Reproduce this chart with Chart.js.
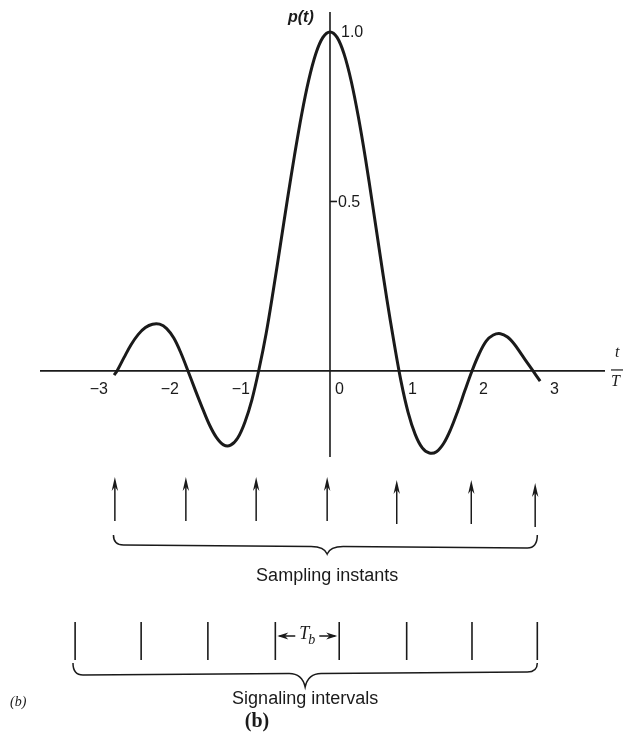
<!DOCTYPE html>
<html>
<head>
<meta charset="utf-8">
<title>p(t) pulse, sampling instants and signaling intervals</title>
<script src="https://cdn.jsdelivr.net/npm/chart.js@4/dist/chart.umd.min.js"></script>
<style>
  html, body { margin: 0; padding: 0; background: #ffffff; }
  #wrap { width: 623px; height: 749px; }
</style>
</head>
<body>
<div id="wrap"><canvas id="c" width="623" height="749"></canvas></div>
<script>
// Normalised time t/T and the pulse p(t)
const tValues = [
  -3.04, -3.0, -2.9, -2.8, -2.7, -2.6, -2.5, -2.4, -2.3, -2.2, -2.1,
  -2.0, -1.9, -1.8, -1.7, -1.6, -1.5, -1.4, -1.3, -1.2, -1.1,
  -1.0, -0.9, -0.8, -0.7, -0.6, -0.5, -0.4, -0.3, -0.2, -0.1,
  0.0, 0.1, 0.2, 0.3, 0.4, 0.5, 0.6, 0.7, 0.8, 0.9,
  1.0, 1.1, 1.2, 1.3, 1.4, 1.5, 1.6, 1.7, 1.8, 1.9,
  2.0, 2.1, 2.2, 2.3, 2.4, 2.5, 2.6, 2.7, 2.8, 2.9, 2.96
];
const pValues = [
  -0.012, 0.0, 0.040, 0.078, 0.108, 0.128, 0.138, 0.138, 0.125, 0.097, 0.053,
  0.0, -0.055, -0.108, -0.158, -0.196, -0.218, -0.219, -0.198, -0.152, -0.085,
  0.005, 0.110, 0.236, 0.370, 0.506, 0.636, 0.756, 0.858, 0.936, 0.984,
  1.0, 0.984, 0.934, 0.854, 0.749, 0.626, 0.490, 0.350, 0.213, 0.086,
  -0.030, -0.122, -0.187, -0.227, -0.242, -0.238, -0.214, -0.172, -0.118, -0.058,
  0.0, 0.050, 0.088, 0.106, 0.110, 0.100, 0.078, 0.048, 0.018, -0.012, -0.030
];

// Axis tick labels
const xTicks = [-3, -2, -1, 0, 1, 2, 3];
const xTickLabels = ['\u22123', '\u22122', '\u22121', '0', '1', '2', '3'];
const yTicks = [0.5, 1.0];
const yTickLabels = ['0.5', '1.0'];

// Sampling instants and signaling interval boundaries (in t/T)
const samplingInstants = [-3.03, -2.03, -1.04, -0.04, 0.94, 1.99, 2.89];
const intervalEdges = [-3.59, -2.66, -1.72, -0.77, 0.13, 1.08, 2.0, 2.92];
const tbInterval = [-0.77, 0.13];

const INK = '#1a1a1a';
const SANS = '"Liberation Sans", Arial, Helvetica, sans-serif';
const SERIF = '"Liberation Serif", "Times New Roman", serif';

function arrowHead(ctx, x, y, dir, len, half) {
  // dir: 'up', 'left', 'right'
  ctx.beginPath();
  if (dir === 'up') {
    ctx.moveTo(x, y);
    ctx.lineTo(x - half, y + len);
    ctx.lineTo(x, y + len * 0.7);
    ctx.lineTo(x + half, y + len);
  } else if (dir === 'left') {
    ctx.moveTo(x, y);
    ctx.lineTo(x + len, y - half);
    ctx.lineTo(x + len * 0.7, y);
    ctx.lineTo(x + len, y + half);
  } else {
    ctx.moveTo(x, y);
    ctx.lineTo(x - len, y - half);
    ctx.lineTo(x - len * 0.7, y);
    ctx.lineTo(x - len, y + half);
  }
  ctx.closePath();
  ctx.fill();
}

// Downward-opening curly brace between x0 and x1, pointing at xm
function brace(ctx, x0, x1, xm, yTop, yLine0, yLine1, yTip) {
  const r = 10;
  const ym = yLine0 + (yLine1 - yLine0) * ((xm - x0) / (x1 - x0));
  ctx.beginPath();
  ctx.moveTo(x0, yTop);
  ctx.quadraticCurveTo(x0, yLine0, x0 + r, yLine0);
  ctx.lineTo(xm - 16, ym);
  ctx.quadraticCurveTo(xm - 3, ym, xm, yTip);
  ctx.quadraticCurveTo(xm + 3, ym, xm + 16, ym);
  ctx.lineTo(x1 - r, yLine1);
  ctx.quadraticCurveTo(x1, yLine1, x1, yTop);
  ctx.stroke();
}

const decorations = {
  id: 'pulseDecorations',
  beforeDatasetsDraw(chart) {
    const ctx = chart.ctx;
    const xs = chart.scales.x, ys = chart.scales.y;
    const x0 = xs.getPixelForValue(0);
    const y0 = ys.getPixelForValue(0);
    ctx.save();
    ctx.strokeStyle = INK;
    ctx.fillStyle = INK;

    // horizontal time axis
    ctx.lineWidth = 1.8;
    ctx.beginPath();
    ctx.moveTo(40, y0);
    ctx.lineTo(605, y0);
    ctx.stroke();

    // vertical p(t) axis
    ctx.lineWidth = 1.6;
    ctx.beginPath();
    ctx.moveTo(x0, 12);
    ctx.lineTo(x0, 457);
    ctx.stroke();

    // y ticks and labels
    ctx.font = '16px ' + SANS;
    ctx.textBaseline = 'middle';
    ctx.textAlign = 'left';
    yTicks.forEach((v, i) => {
      const py = ys.getPixelForValue(v);
      if (v !== 1.0) {
        ctx.beginPath();
        ctx.moveTo(x0, py);
        ctx.lineTo(x0 + 7, py);
        ctx.stroke();
        ctx.fillText(yTickLabels[i], x0 + 8, py + 1);
      } else {
        ctx.fillText(yTickLabels[i], x0 + 11, py + 1);
      }
    });

    // x tick labels
    xTicks.forEach((v, i) => {
      const px = xs.getPixelForValue(v);
      if (v < 0) {
        ctx.textAlign = 'right';
        ctx.fillText(xTickLabels[i], px - 9, y0 + 19);
      } else {
        ctx.textAlign = 'left';
        ctx.fillText(xTickLabels[i], px + (v === 0 ? 5 : 7), y0 + 19);
      }
    });

    // axis titles
    ctx.font = 'italic 600 16px ' + SANS;
    ctx.textAlign = 'left';
    ctx.fillText('p(t)', 288, 18);
    ctx.font = 'italic 16px ' + SERIF;
    ctx.textAlign = 'left';
    ctx.fillText('t', 615, 353);
    ctx.lineWidth = 1.2;
    ctx.beginPath();
    ctx.moveTo(611, y0 - 1);
    ctx.lineTo(623, y0 - 1);
    ctx.stroke();
    ctx.fillText('T', 611, 382);

    // sampling instants
    ctx.lineWidth = 1.5;
    samplingInstants.forEach((t, i) => {
      const px = xs.getPixelForValue(t);
      const drop = i === samplingInstants.length - 1 ? 6 : (i >= 4 ? 3 : 0);
      ctx.beginPath();
      ctx.moveTo(px, 484 + drop);
      ctx.lineTo(px, 521 + drop);
      ctx.stroke();
      arrowHead(ctx, px, 477 + drop, 'up', 14, 3.2);
    });
    ctx.lineWidth = 1.5;
    brace(ctx, xs.getPixelForValue(-3.05), xs.getPixelForValue(2.92),
          xs.getPixelForValue(-0.04), 535, 545, 548, 554);
    ctx.font = '18px ' + SANS;
    ctx.textAlign = 'center';
    ctx.fillText('Sampling instants', xs.getPixelForValue(-0.04), 576);

    // signaling intervals
    ctx.lineWidth = 1.6;
    intervalEdges.forEach((t) => {
      const px = xs.getPixelForValue(t);
      ctx.beginPath();
      ctx.moveTo(px, 622);
      ctx.lineTo(px, 660);
      ctx.stroke();
    });
    const a = xs.getPixelForValue(tbInterval[0]);
    const b = xs.getPixelForValue(tbInterval[1]);
    const mid = (a + b) / 2;
    ctx.lineWidth = 1.4;
    ctx.beginPath();
    ctx.moveTo(a + 4, 636); ctx.lineTo(mid - 12, 636);
    ctx.moveTo(mid + 12, 636); ctx.lineTo(b - 4, 636);
    ctx.stroke();
    arrowHead(ctx, a + 2, 636, 'left', 11, 3.5);
    arrowHead(ctx, b - 2, 636, 'right', 11, 3.5);
    ctx.font = 'italic 18px ' + SERIF;
    ctx.textAlign = 'right';
    ctx.fillText('T', mid + 2, 634);
    ctx.font = 'italic 14px ' + SERIF;
    ctx.textAlign = 'left';
    ctx.fillText('b', mid + 1, 640);

    ctx.lineWidth = 1.5;
    brace(ctx, xs.getPixelForValue(-3.62), xs.getPixelForValue(2.92),
          xs.getPixelForValue(-0.35), 663, 675, 672, 687);
    ctx.font = '18px ' + SANS;
    ctx.textAlign = 'center';
    ctx.fillText('Signaling intervals', xs.getPixelForValue(-0.35), 699);

    // panel labels
    ctx.font = 'italic 14px ' + SERIF;
    ctx.textAlign = 'left';
    ctx.fillText('(b)', 10, 702);
    ctx.font = 'bold 20px ' + SERIF;
    ctx.textAlign = 'center';
    ctx.fillText('(b)', 257, 722);

    ctx.restore();
  }
};

new Chart(document.getElementById('c'), {
  type: 'line',
  data: {
    datasets: [{
      data: tValues.map((t, i) => ({ x: t, y: pValues[i] })),
      borderColor: INK,
      borderWidth: 3,
      pointRadius: 0,
      tension: 0.35,
      fill: false
    }]
  },
  options: {
    responsive: false,
    animation: false,
    devicePixelRatio: 1,
    layout: { padding: 0 },
    plugins: { legend: { display: false }, tooltip: { enabled: false } },
    scales: {
      x: { type: 'linear', min: -4.648, max: 4.127, display: false },
      y: { type: 'linear', min: -1.1153, max: 1.0944, display: false }
    }
  },
  plugins: [decorations]
});
</script>
</body>
</html>
